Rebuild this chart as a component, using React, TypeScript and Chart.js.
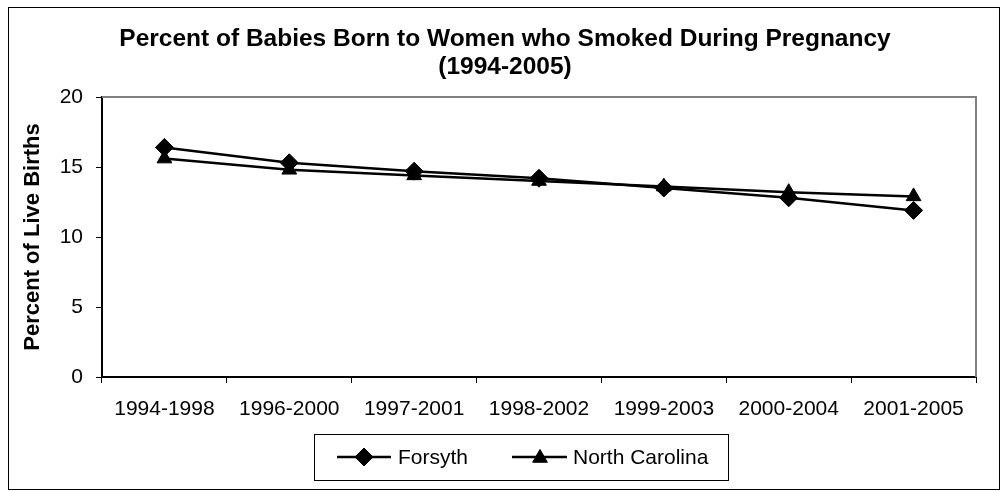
import React, { useEffect, useRef } from "react";
import { Chart, registerables } from "chart.js";

Chart.register(...registerables);

const categories = ["1994-1998", "1996-2000", "1997-2001", "1998-2002", "1999-2003", "2000-2004", "2001-2005"];
const forsythValues = [16.4, 15.3, 14.7, 14.2, 13.5, 12.8, 11.9];
const northCarolinaValues = [15.6, 14.8, 14.4, 14.0, 13.6, 13.2, 12.9];
const yTicks = [0, 5, 10, 15, 20];
const titleLines = ["Percent of Babies Born to Women who Smoked During Pregnancy", "(1994-2005)"];
const yAxisTitle = "Percent of Live Births";
const seriesNames = ["Forsyth", "North Carolina"];

const FONT = "'Liberation Sans', Arial, sans-serif";

function drawMarker(ctx: CanvasRenderingContext2D, style: string, x: number, y: number) {
  ctx.save();
  ctx.fillStyle = "#000";
  ctx.strokeStyle = "#000";
  ctx.lineWidth = 1;
  ctx.beginPath();
  if (style === "rectRot") {
    const r = 9;
    ctx.moveTo(x, y - r);
    ctx.lineTo(x + r, y);
    ctx.lineTo(x, y + r);
    ctx.lineTo(x - r, y);
  } else {
    const r = 8.5;
    ctx.moveTo(x, y - r);
    ctx.lineTo(x + r * 0.866, y + r * 0.5);
    ctx.lineTo(x - r * 0.866, y + r * 0.5);
  }
  ctx.closePath();
  ctx.fill();
  ctx.stroke();
  ctx.restore();
}

const decorPlugin = {
  id: "decor",
  beforeDraw(chart: any) {
    const ctx = chart.ctx as CanvasRenderingContext2D;
    ctx.save();
    ctx.fillStyle = "#fff";
    ctx.fillRect(0, 0, chart.width, chart.height);
    ctx.restore();
  },
  afterDraw(chart: any) {
    const ctx = chart.ctx as CanvasRenderingContext2D;
    const area = chart.chartArea;
    ctx.save();
    // outer border
    ctx.strokeStyle = "#000";
    ctx.lineWidth = 1;
    ctx.strokeRect(8.5, 7.5, 991, 482);
    // plot border (top/right)
    ctx.strokeStyle = "#808080";
    ctx.lineWidth = 2;
    ctx.beginPath();
    ctx.moveTo(area.left, area.top);
    ctx.lineTo(area.right, area.top);
    ctx.lineTo(area.right, area.bottom);
    ctx.stroke();
    // title
    ctx.fillStyle = "#000";
    ctx.font = `bold 24.5px ${FONT}`;
    ctx.textAlign = "center";
    ctx.textBaseline = "alphabetic";
    ctx.fillText(titleLines[0], 505, 46);
    ctx.fillText(titleLines[1], 505, 74);
    // y axis title
    ctx.save();
    ctx.translate(39, (area.top + area.bottom) / 2);
    ctx.rotate(-Math.PI / 2);
    ctx.font = `bold 22px ${FONT}`;
    ctx.textAlign = "center";
    ctx.textBaseline = "alphabetic";
    ctx.fillText(yAxisTitle, 0, 0);
    ctx.restore();
    // legend
    ctx.strokeStyle = "#000";
    ctx.lineWidth = 1;
    ctx.strokeRect(314.5, 434.5, 414, 46);
    const ly = 457;
    const items = [
      { x0: 337, x1: 391, mx: 364, tx: 398, style: "rectRot" },
      { x0: 512, x1: 567, mx: 540, tx: 573, style: "triangle" },
    ];
    chart.data.datasets.forEach((ds: any, i: number) => {
      const it = items[i];
      ctx.strokeStyle = "#000";
      ctx.lineWidth = 2.5;
      ctx.beginPath();
      ctx.moveTo(it.x0, ly);
      ctx.lineTo(it.x1, ly);
      ctx.stroke();
      drawMarker(ctx, it.style, it.mx, ly + (it.style === "triangle" ? 1 : 0));
      ctx.fillStyle = "#000";
      ctx.font = `21px ${FONT}`;
      ctx.textAlign = "left";
      ctx.textBaseline = "middle";
      ctx.fillText(ds.label, it.tx, ly + 1);
    });
    ctx.restore();
  },
};

export default function App() {
  const canvasRef = useRef<HTMLCanvasElement | null>(null);

  useEffect(() => {
    const canvas = canvasRef.current;
    if (!canvas) return;
    const chart = new Chart(canvas, {
      type: "line",
      data: {
        labels: categories,
        datasets: [
          {
            label: seriesNames[0],
            data: forsythValues,
            borderColor: "#000",
            backgroundColor: "#000",
            borderWidth: 2.5,
            pointStyle: "rectRot",
            pointRadius: 9,
            pointBorderWidth: 1,
            pointBackgroundColor: "#000",
            pointBorderColor: "#000",
            tension: 0,
          },
          {
            label: seriesNames[1],
            data: northCarolinaValues,
            borderColor: "#000",
            backgroundColor: "#000",
            borderWidth: 2.5,
            pointStyle: "triangle",
            pointRadius: 8.5,
            pointBorderWidth: 1,
            pointBackgroundColor: "#000",
            pointBorderColor: "#000",
            tension: 0,
          },
        ],
      },
      options: {
        responsive: false,
        animation: false,
        layout: { padding: { left: 0, right: 32, top: 97, bottom: 0 } },
        plugins: {
          legend: { display: false },
          title: { display: false },
          tooltip: { enabled: false },
        },
        scales: {
          x: {
            type: "category",
            offset: true,
            grid: {
              offset: true,
              drawOnChartArea: false,
              drawTicks: true,
              tickLength: 6,
              color: "#000",
              lineWidth: 1,
            },
            border: { display: true, color: "#000", width: 2 },
            ticks: {
              color: "#000",
              font: { family: FONT, size: 21 },
              padding: 14,
              maxRotation: 0,
              autoSkip: false,
            },
            afterFit(scale: any) {
              scale.height = 114;
            },
          },
          y: {
            min: 0,
            max: 20,
            afterBuildTicks(scale: any) {
              scale.ticks = yTicks.map((v) => ({ value: v }));
            },
            grid: {
              drawOnChartArea: false,
              drawTicks: true,
              tickLength: 6,
              color: "#000",
              lineWidth: 1,
            },
            border: { display: true, color: "#000", width: 2 },
            ticks: {
              color: "#000",
              font: { family: FONT, size: 21 },
              padding: 13,
            },
            afterFit(scale: any) {
              scale.width = 102;
            },
          },
        },
      },
      plugins: [decorPlugin],
    });
    return () => chart.destroy();
  }, []);

  return (
    <div style={{ position: "absolute", left: 0, top: 0, width: 1008, height: 491 }}>
      <canvas ref={canvasRef} width={1008} height={491} style={{ width: 1008, height: 491 }} />
    </div>
  );
}
